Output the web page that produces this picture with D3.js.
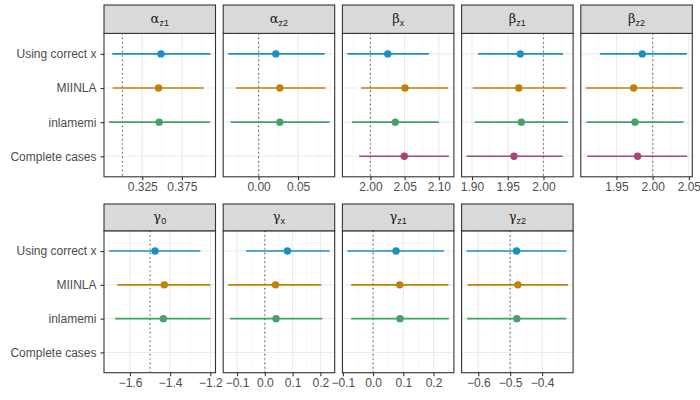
<!DOCTYPE html>
<html>
<head>
<meta charset="utf-8">
<script src="https://cdn.jsdelivr.net/npm/d3@7"></script>
<style>
  body { margin: 0; background: #fff; }
  svg { font-family: "Liberation Sans", Arial, sans-serif; }
</style>
</head>
<body>
<div id="chart"></div>
<script>
// Methods (rows) and their colours
const methods = ["Using correct x", "MIINLA", "inlamemi", "Complete cases"];
const methodColors = ["#1a8fc4", "#c47f0b", "#44a264", "#a6457a"];

// Parameters (facets)
const paramSymbols = ["α", "α", "β", "β", "β", "γ", "γ", "γ", "γ"];
const paramSubs = ["z1", "z2", "x", "z1", "z2", "0", "x", "z1", "z2"];
const trueValues = [0.3, 0, 2, 2, 2, -1.5, 0, 0, -0.5];

// Posterior means, per parameter, in method order (null = not estimated)
const estMean = [
  [0.3486, 0.3456, 0.3464, null],
  [0.0218, 0.0269, 0.0269, null],
  [2.0253, 2.0505, 2.0364, 2.0495],
  [1.9676, 1.9654, 1.9690, 1.9587],
  [1.9856, 1.9737, 1.9755, 1.9792],
  [-1.4752, -1.4289, -1.4340, null],
  [0.0810, 0.0383, 0.0405, null],
  [0.0760, 0.0881, 0.0891, null],
  [-0.4800, -0.4759, -0.4790, null]
];
// Lower 95% limits
const estLower = [
  [0.2872, 0.2877, 0.2831, null],
  [-0.0384, -0.0287, -0.0354, null],
  [1.9665, 1.9865, 1.9730, 1.9836],
  [1.9085, 1.9010, 1.9038, 1.8925],
  [1.9270, 1.9076, 1.9085, 1.9095],
  [-1.7041, -1.6628, -1.6744, null],
  [-0.0681, -0.1315, -0.1254, null],
  [-0.0848, -0.0726, -0.0726, null],
  [-0.6363, -0.6331, -0.6353, null]
];
// Upper 95% limits
const estUpper = [
  [0.4111, 0.4027, 0.4103, null],
  [0.0837, 0.0850, 0.0900, null],
  [2.0854, 2.1135, 2.1000, 2.1146],
  [2.0273, 2.0315, 2.0344, 2.0268],
  [2.0473, 2.0417, 2.0426, 2.0478],
  [-1.2497, -1.2000, -1.1995, null],
  [0.2330, 0.2032, 0.2068, null],
  [0.2343, 0.2498, 0.2508, null],
  [-0.3238, -0.3187, -0.3238, null]
];

// Axis ticks per facet
const tickValues = [
  [0.325, 0.375],
  [0.00, 0.05],
  [2.00, 2.05, 2.10],
  [1.90, 1.95, 2.00],
  [1.95, 2.00, 2.05],
  [-1.6, -1.4, -1.2],
  [-0.1, 0.0, 0.1, 0.2],
  [-0.1, 0.0, 0.1, 0.2],
  [-0.6, -0.5, -0.4]
];
const tickDecimals = [3, 2, 2, 2, 2, 1, 1, 1, 1];

const width = 700, height = 400;
const ncol = 5;
const panelLeft = 104, panelW = 111.5, gapX = 7.7;
const rows = [
  { stripTop: 5, panelTop: 33.4, panelBottom: 176.8 },
  { stripTop: 204, panelTop: 230.8, panelBottom: 372.7 }
];

const svg = d3.select("#chart").append("svg")
  .attr("width", width)
  .attr("height", height);

paramSymbols.forEach((sym, i) => {
  const r = Math.floor(i / ncol), c = i % ncol;
  const row = rows[r];
  const x0 = panelLeft + c * (panelW + gapX);
  const g = svg.append("g").attr("transform", `translate(${x0},0)`);

  // x scale: data range plus 5% each side, like ggplot
  const vals = estLower[i].concat(estUpper[i], [trueValues[i]]).filter(v => v !== null);
  const [lo, hi] = d3.extent(vals);
  const pad = (hi - lo) * 0.05;
  const x = d3.scaleLinear().domain([lo - pad, hi + pad]).range([0, panelW]);

  const y = d3.scalePoint().domain(methods)
    .range([row.panelTop, row.panelBottom]).padding(0.6);

  // panel background
  g.append("rect")
    .attr("x", 0).attr("y", row.panelTop)
    .attr("width", panelW).attr("height", row.panelBottom - row.panelTop)
    .attr("fill", "#fff");

  // minor grid (midpoints, extended one step)
  const tv = tickValues[i];
  const step = tv[1] - tv[0];
  const minor = [];
  for (let k = -1; k < tv.length; k++) minor.push(tv[0] + (k + 0.5) * step);
  g.selectAll(".minor").data(minor.filter(v => v >= x.domain()[0] && v <= x.domain()[1]))
    .enter().append("line")
    .attr("x1", d => x(d)).attr("x2", d => x(d))
    .attr("y1", row.panelTop).attr("y2", row.panelBottom)
    .attr("stroke", "#f2f2f2").attr("stroke-width", 0.6);

  // major grid
  g.selectAll(".major").data(tv).enter().append("line")
    .attr("x1", d => x(d)).attr("x2", d => x(d))
    .attr("y1", row.panelTop).attr("y2", row.panelBottom)
    .attr("stroke", "#ebebeb").attr("stroke-width", 1.1);
  g.selectAll(".hgrid").data(methods).enter().append("line")
    .attr("x1", 0).attr("x2", panelW)
    .attr("y1", d => y(d)).attr("y2", d => y(d))
    .attr("stroke", "#ebebeb").attr("stroke-width", 1.1);

  // true value
  g.append("line")
    .attr("x1", x(trueValues[i])).attr("x2", x(trueValues[i]))
    .attr("y1", row.panelTop).attr("y2", row.panelBottom)
    .attr("stroke", "#555").attr("stroke-width", 1.2)
    .attr("stroke-dasharray", "1.2,3.2");

  // point ranges
  const est = methods.map((m, k) => ({
    m, k, mean: estMean[i][k], lo: estLower[i][k], hi: estUpper[i][k]
  })).filter(d => d.mean !== null);

  g.selectAll(".range").data(est).enter().append("line")
    .attr("x1", d => x(d.lo)).attr("x2", d => x(d.hi))
    .attr("y1", d => y(d.m)).attr("y2", d => y(d.m))
    .attr("stroke", d => methodColors[d.k]).attr("stroke-width", 1.6);
  g.selectAll(".pt").data(est).enter().append("circle")
    .attr("cx", d => x(d.mean)).attr("cy", d => y(d.m))
    .attr("r", 3.7)
    .attr("fill", d => methodColors[d.k]);

  // panel border
  g.append("rect")
    .attr("x", 0).attr("y", row.panelTop)
    .attr("width", panelW).attr("height", row.panelBottom - row.panelTop)
    .attr("fill", "none").attr("stroke", "#333").attr("stroke-width", 1.1);

  // strip
  g.append("rect")
    .attr("x", 0).attr("y", row.stripTop)
    .attr("width", panelW).attr("height", row.panelTop - row.stripTop)
    .attr("fill", "#d9d9d9").attr("stroke", "#333").attr("stroke-width", 1.1);
  const st = g.append("text")
    .attr("x", panelW / 2).attr("y", (row.stripTop + row.panelTop) / 2 + 4)
    .attr("text-anchor", "middle")
    .attr("fill", "#1a1a1a");
  st.append("tspan").attr("font-size", 13).attr("font-family", "'DejaVu Serif', serif").text(sym);
  st.append("tspan").attr("font-size", 9).attr("dy", 3).text(paramSubs[i]);

  // x axis
  const fmt = d3.format(`.${tickDecimals[i]}f`);
  const xa = g.append("g")
    .attr("transform", `translate(0,${row.panelBottom})`)
    .call(d3.axisBottom(x).tickValues(tv).tickFormat(fmt).tickSize(3.5).tickPadding(2.5));
  xa.select(".domain").remove();
  xa.selectAll(".tick line").attr("stroke", "#333").attr("stroke-width", 1.1);
  xa.selectAll(".tick text").attr("fill", "#4d4d4d").attr("font-size", 12)
    .attr("font-family", "'Liberation Sans', Arial, sans-serif");

  // y axis on first column
  if (c === 0) {
    const ya = g.append("g")
      .call(d3.axisLeft(y).tickSize(3.5).tickPadding(4));
    ya.select(".domain").remove();
    ya.selectAll(".tick line").attr("stroke", "#333").attr("stroke-width", 1.1);
    ya.selectAll(".tick text").attr("fill", "#4d4d4d").attr("font-size", 12)
      .attr("font-family", "'Liberation Sans', Arial, sans-serif");
  }
});
</script>
</body>
</html>
